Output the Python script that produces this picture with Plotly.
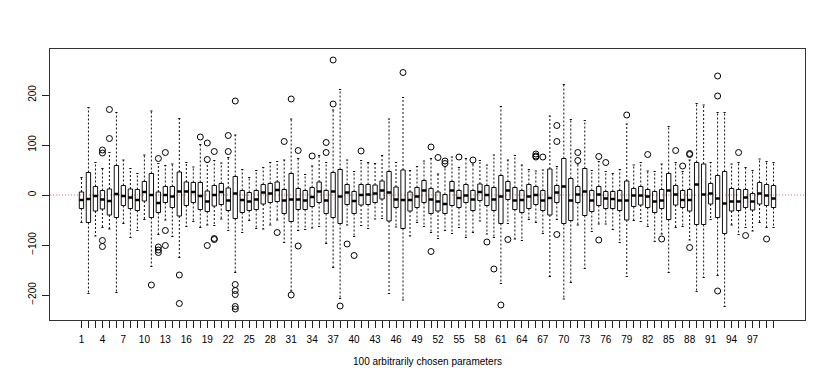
import plotly.graph_objects as go

# Estadísticos (una entrada por parámetro, 1..100)
params = list(range(1, 101))

upper = [35, 175, 65, 53, 85, 165, 70, 53, 43, 80,
         168, 63, 59, 62, 153, 65, 56, 101, 65, 69,
         64, 75, 120, 51, 35, 49, 55, 65, 67, 70,
         152, 73, 41, 58, 79, 65, 170, 211, 70, 47,
         69, 65, 63, 79, 152, 65, 195, 49, 57, 68,
         73, 42, 56, 76, 55, 73, 62, 69, 60, 80,
         177, 70, 79, 60, 51, 48, 50, 158, 57, 221,
         151, 62, 149, 49, 67, 47, 43, 51, 142, 60,
         65, 48, 47, 62, 137, 65, 47, 70, 183, 180,
         65, 165, 165, 62, 65, 55, 49, 72, 67, 65]
q3 = [6, 45, 17, 9, 12, 59, 19, 12, 11, 27,
      43, 6, 17, 17, 46, 26, 25, 25, 8, 19,
      23, 14, 37, 9, 5, 9, 21, 23, 26, 11,
      43, 13, 9, 15, 26, 9, 45, 51, 21, 7,
      21, 21, 20, 28, 47, 16, 50, 6, 15, 29,
      13, 6, 1, 27, 9, 21, 9, 22, 19, 15,
      39, 27, 15, 9, 21, 17, 9, 52, 19, 73,
      33, 17, 53, 9, 17, 7, 7, 9, 28, 13,
      17, 11, 7, 11, 43, 19, 9, 11, 65, 62,
      23, 39, 47, 13, 11, 11, 3, 25, 21, 19]
median = [-10, -8, -2, -9, -12, 2, -2, -5, -10, 6,
          0, -16, 0, -3, 7, 7, 6, -2, -13, 0,
          6, -11, 3, -10, -13, -9, 5, 3, 10, -11,
          -9, -9, -11, -4, 7, -11, 7, -3, 5, -12,
          0, 1, 3, 9, 5, -9, -10, -10, -3, 9,
          -9, -13, -18, 9, -6, -1, -9, 6, 0, -9,
          -3, 9, -11, -10, -3, 0, -11, -6, 5, 17,
          -11, 1, 7, -11, 1, -7, -8, -11, -11, -1,
          -1, -3, -13, -11, 9, 1, -10, -10, 21, 1,
          3, -7, -17, -13, -13, -5, -13, 3, -1, -7]
q1 = [-27, -55, -32, -28, -40, -45, -21, -27, -31, -12,
      -45, -35, -15, -25, -42, -21, -15, -29, -33, -22,
      -19, -31, -47, -35, -31, -29, -18, -15, -13, -37,
      -53, -29, -29, -23, -15, -37, -45, -57, -19, -37,
      -20, -19, -15, -8, -52, -25, -67, -32, -25, -15,
      -37, -32, -37, -21, -25, -15, -31, -11, -21, -31,
      -57, -9, -29, -35, -27, -19, -31, -40, -15, -57,
      -51, -15, -41, -33, -21, -27, -27, -31, -50, -23,
      -20, -25, -35, -27, -49, -20, -25, -32, -59, -59,
      -18, -45, -77, -32, -31, -25, -30, -18, -21, -25]
lower = [-55, -197, -82, -65, -68, -195, -57, -85, -71, -49,
         -143, -79, -50, -83, -125, -63, -53, -65, -60, -61,
         -48, -71, -155, -75, -51, -67, -68, -60, -50, -95,
         -192, -71, -69, -66, -63, -97, -145, -207, -60, -83,
         -61, -67, -48, -47, -197, -64, -210, -82, -55, -63,
         -75, -87, -71, -77, -65, -85, -75, -52, -78, -85,
         -177, -57, -88, -91, -49, -55, -77, -163, -49, -208,
         -175, -60, -147, -73, -58, -58, -69, -95, -163, -51,
         -53, -63, -93, -78, -155, -65, -63, -90, -193, -165,
         -49, -161, -223, -60, -79, -65, -72, -55, -65, -65]

# Valores atípicos (parámetro, valor)
out_x = [4, 4, 4, 4, 5, 5, 11, 12, 12, 12, 12, 13, 13, 13, 15, 15, 18,
         19, 19, 19, 20, 20, 20, 22, 22, 23, 23, 23, 23, 23, 23, 29, 30,
         31, 31, 32, 32, 34, 36, 36, 37, 37, 38, 39, 40, 41, 47, 51, 51,
         52, 53, 53, 55, 57, 59, 60, 61, 62, 66, 66, 66, 67, 69, 69, 69,
         72, 72, 75, 75, 76, 79, 82, 84, 86, 87, 88, 88, 88, 92, 92, 92,
         95, 96, 99]
out_y = [90, 84, -91, -103, 171, 113, -180, 73, -104, -110, -115, 85, -71, -101, -160, -217, 116,
         104, 71, -101, 87, -87, -89, 119, 87, 188, -179, -191, -199, -223, -228, -75, 107,
         192, -200, 89, -102, 78, 105, 85, 270, 182, -222, -98, -121, 88, 245, 96, -113,
         75, 68, 63, 76, 70, -94, -148, -220, -89, 82, 78, 76, 76, 139, 107, -79,
         85, 69, 77, -90, 65, 160, 81, -88, 89, 58, 83, 81, -105, 238, 198, -192,
         85, -81, -88]

x_ticks = params
# R omite la etiqueta "100" por solaparse; se muestran 1, 4, ..., 97
x_labels = [str(p) if (p - 1) % 3 == 0 and p < 100 else "" for p in params]

BOX_W = 0.62
STAPLE = 0.16

fig = go.Figure()

# Cajas (sin bigotes: se dibujan aparte con línea discontinua)
fig.add_trace(go.Box(
    x=params, q1=q1, median=median, q3=q3,
    lowerfence=q1, upperfence=q3,
    width=BOX_W, whiskerwidth=0,
    line=dict(color="#111111", width=1),
    fillcolor="rgba(0,0,0,0)",
    boxpoints=False, hoverinfo="skip", showlegend=False
))

# Bigotes discontinuos
wx, wy = [], []
for i, p in enumerate(params):
    wx += [p, p, None, p, p, None]
    wy += [q3[i], upper[i], None, q1[i], lower[i], None]
fig.add_trace(go.Scatter(x=wx, y=wy, mode="lines",
                         line=dict(color="#111111", width=1, dash="2px,2px"),
                         hoverinfo="skip", showlegend=False))

# Remates de los bigotes
sx, sy = [], []
for i, p in enumerate(params):
    sx += [p - STAPLE, p + STAPLE, None, p - STAPLE, p + STAPLE, None]
    sy += [upper[i], upper[i], None, lower[i], lower[i], None]
fig.add_trace(go.Scatter(x=sx, y=sy, mode="lines",
                         line=dict(color="#111111", width=1),
                         hoverinfo="skip", showlegend=False))

# Medianas gruesas
mx, my = [], []
for i, p in enumerate(params):
    mx += [p - BOX_W / 2, p + BOX_W / 2, None]
    my += [median[i], median[i], None]
fig.add_trace(go.Scatter(x=mx, y=my, mode="lines",
                         line=dict(color="black", width=2.5),
                         hoverinfo="skip", showlegend=False))

# Atípicos
fig.add_trace(go.Scatter(x=out_x, y=out_y, mode="markers",
                         marker=dict(symbol="circle-open", size=6,
                                     color="black", line=dict(width=1)),
                         hoverinfo="skip", showlegend=False))

# Línea de referencia en cero (punteada fina)
fig.add_hline(y=0, line=dict(color="rgba(230,60,60,0.75)", width=1, dash="1px,2px"),
              layer="below")

# La página añade 8 px de margen al body: se descuentan aquí
fig.update_layout(
    width=830, height=383,
    margin=dict(l=42, r=33, t=41, b=71),
    paper_bgcolor="white", plot_bgcolor="white",
    font=dict(family="Liberation Sans, Arial, sans-serif", size=10, color="black"),
    xaxis=dict(
        range=[-3.5, 104.5], tickmode="array", tickvals=x_ticks, ticktext=x_labels,
        ticks="outside", ticklen=7, tickcolor="#222222", tickwidth=1,
        ticklabelstandoff=3,
        showgrid=False, zeroline=False,
        showline=True, mirror=True, linecolor="#333333", linewidth=1,
        title=dict(text="100 arbitrarily chosen parameters", standoff=13,
                   font=dict(size=10))
    ),
    yaxis=dict(
        range=[-250, 292], tickmode="array", tickvals=[-200, -100, 0, 100, 200],
        ticks="outside", ticklen=7, tickcolor="#222222", tickangle=-90,
        ticklabelstandoff=2,
        showgrid=False, zeroline=False,
        showline=True, mirror=True, linecolor="#333333", linewidth=1
    ),
)

fig.write_html("out.html")
